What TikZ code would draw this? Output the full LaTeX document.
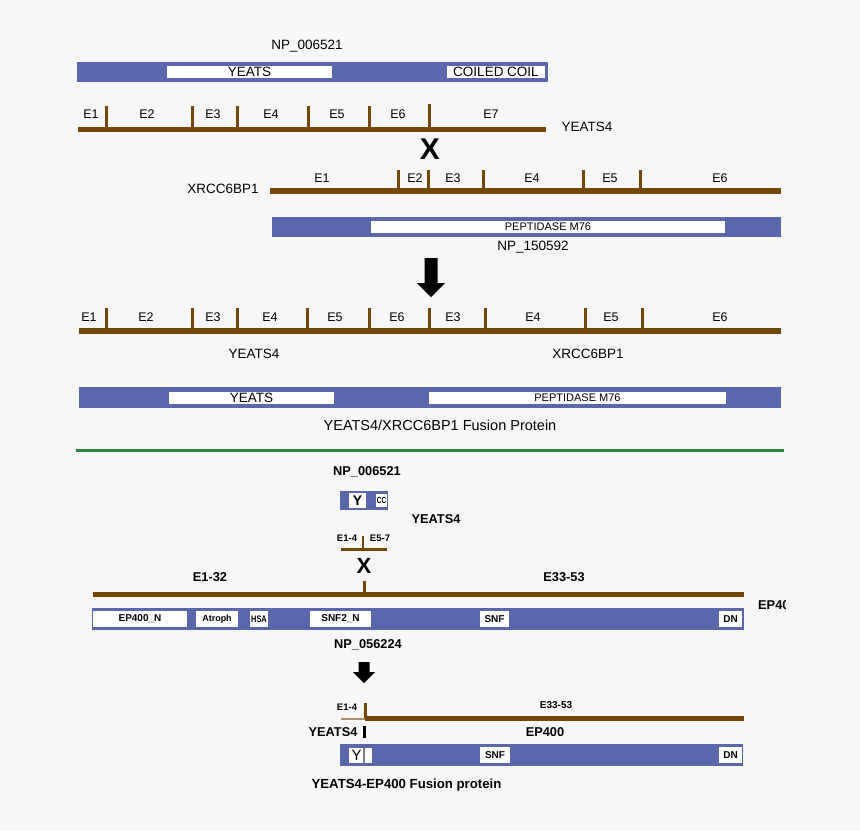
\documentclass[tikz,border=0pt]{standalone}
\usepackage{fontspec}
\setmainfont{Liberation Sans}
\definecolor{barblue}{HTML}{5B67AD}
\definecolor{genebrown}{HTML}{744706}
\definecolor{sepgreen}{HTML}{2E8540}
\definecolor{bgc}{HTML}{F7F7F7}
\tikzset{
  bar/.style={fill=barblue},
  wbox/.style={fill=white},
  gene/.style={draw=genebrown, line width=5pt, line cap=butt},
  tk/.style={draw=genebrown, line width=3pt, line cap=butt},
  txt/.style={inner sep=0pt, font=\fontsize{13.5}{14}\selectfont},
  ex/.style={inner sep=0pt, font=\fontsize{12.5}{13}\selectfont},
  small/.style={inner sep=0pt, font=\fontsize{11}{12}\selectfont},
  btxt/.style={inner sep=0pt, font=\bfseries\fontsize{12.8}{13}\selectfont},
  bsmall/.style={inner sep=0pt, font=\bfseries\fontsize{9.5}{10}\selectfont},
  bdom/.style={inner sep=0pt, font=\bfseries\fontsize{10}{10}\selectfont},
  bigx/.style={inner sep=0pt, font=\bfseries\fontsize{30}{30}\selectfont},
}
\begin{document}
\begin{tikzpicture}[x=1pt,y=-1pt]
\fill[bgc] (0,0) rectangle (860,831);
\useasboundingbox (0,0) rectangle (860,831);

% ---------- top: YEATS4 ----------
\node[txt] (np1) at (307,46) {NP\_006521};
\fill[bar] (77,62) rectangle (548,82);
\fill[wbox] (167,66) rectangle (332,78);
\node[txt] (dy1) at (249.5,72) {YEATS};
\fill[wbox] (447,66) rectangle (545,78);
\node[txt] (dcc) at (496,72) {COILED COIL};

\draw[gene] (78,129.5) -- (546,129.5);
\foreach \t in {106,192,237,308,369} \draw[tk] (\t,106) -- (\t,129);
\draw[tk] (429,104) -- (429,129);
\foreach \l/\p in {E1/91,E2/147,E3/213,E4/271,E5/337,E6/398,E7/491}
  \node[ex] (ya\l) at (\p,114) {\l};
\node[txt] (yeats4a) at (587,127) {YEATS4};
\node[bigx] (xa) at (430,149) {X};

% ---------- XRCC6BP1 ----------
\node[txt] (xrcca) at (223,189) {XRCC6BP1};
\draw[gene, line width=6pt] (270,191) -- (781,191);
\foreach \t in {398,428,483,583,640} \draw[tk] (\t,170) -- (\t,191);
\foreach \l/\p in {E1/322,E2/415,E3/453,E4/532,E5/610,E6/720}
  \node[ex] (xa\l) at (\p,178) {\l};
\fill[bar] (272,217) rectangle (781,237);
\fill[wbox] (371,221) rectangle (725,233);
\node[small] (pepa) at (548,227) {PEPTIDASE M76};
\node[txt] (np2) at (533,247) {NP\_150592};

\fill[black] (424.5,258) -- (437.5,258) -- (437.5,283) -- (445,283) -- (431,297)
  -- (417,283) -- (424.5,283) -- cycle;

% ---------- fusion 1 ----------
\draw[gene, line width=6pt] (79,331) -- (781,331);
\foreach \t in {106,192,237,307,369,429,485,585,642} \draw[tk] (\t,308) -- (\t,331);
\foreach \l/\p/\n in {E1/89/a,E2/146/b,E3/213/c,E4/270/d,E5/335/e,E6/397/f,E3/453/g,E4/533/h,E5/611/i,E6/720/j}
  \node[ex] (f\n) at (\p,317) {\l};
\node[txt] (yeats4b) at (254,354) {YEATS4};
\node[txt] (xrccb) at (588,354) {XRCC6BP1};
\fill[bar] (79,387) rectangle (781,408);
\fill[wbox] (169,392) rectangle (334,404);
\node[txt] (dy2) at (251.5,398) {YEATS};
\fill[wbox] (429,392) rectangle (726,404);
\node[small] (pepb) at (577.5,398) {PEPTIDASE M76};
\node[txt, font=\fontsize{14.5}{15}\selectfont] (fus1) at (440,425) {YEATS4/XRCC6BP1 Fusion Protein};

\draw[sepgreen, line width=3pt] (76,450.5) -- (784,450.5);

% ---------- lower: YEATS4 small ----------
\node[btxt] (np3) at (367,472) {NP\_006521};
\fill[bar] (340,491) rectangle (388,510);
\fill[wbox] (349,493) rectangle (366,508);
\node[inner sep=0pt, font=\bfseries\fontsize{14}{14}\selectfont] (ysm) at (357.5,500.5) {Y};
\fill[wbox] (376,494) rectangle (387,507);
\node[inner sep=0pt, font=\bfseries\fontsize{9}{9}\selectfont, xscale=0.72] (ccsm) at (381.5,500.5) {CC};
\node[btxt] (yeats4c) at (436,519) {YEATS4};
\draw[gene, line width=3pt] (341,549) -- (387,549);
\draw[tk, line width=2pt] (363,536) -- (363,549);
\node[bsmall] (e14a) at (347,538) {E1-4};
\node[bsmall] (e57a) at (380,538) {E5-7};
\node[bigx, font=\bfseries\fontsize{22}{22}\selectfont] (xb) at (364,566) {X};

% ---------- EP400 ----------
\draw[tk] (364,581) -- (364,594);
\draw[gene] (93,594.5) -- (744,594.5);
\node[btxt] (e132) at (210,577) {E1-32};
\node[btxt] (e3353) at (564,577) {E33-53};
\begin{scope}
  \clip (700,590) rectangle (785,622);
  \node[btxt, anchor=west] (ep400a) at (758,605) {EP400};
\end{scope}
\fill[bar] (92,608) rectangle (744,630);
\fill[wbox] (93,611) rectangle (187,627);
\node[bdom] (dep) at (140,619) {EP400\_N};
\fill[wbox] (196,611) rectangle (238,627);
\node[bdom, font=\bfseries\fontsize{9}{9}\selectfont] (datr) at (217,619) {Atroph};
\fill[wbox] (250,611) rectangle (268,627);
\node[bdom, font=\bfseries\fontsize{9.5}{10}\selectfont, xscale=0.78] (dhsa) at (259,619) {HSA};
\fill[wbox] (310,611) rectangle (371,627);
\node[bdom] (dsnf2) at (340.5,619) {SNF2\_N};
\fill[wbox] (480,611) rectangle (509,627);
\node[bdom] (dsnf) at (494.5,619) {SNF};
\fill[wbox] (719,611) rectangle (742,627);
\node[bdom] (ddn) at (730.5,619) {DN};
\node[btxt] (np4) at (368,645) {NP\_056224};

\fill[black] (358.5,662) -- (369.5,662) -- (369.5,672) -- (375,672) -- (364,683)
  -- (353,672) -- (358.5,672) -- cycle;

% ---------- fusion 2 ----------
\draw[genebrown!60, line width=1.5pt] (341,719) -- (365,719);
\draw[gene] (365,718.5) -- (744,718.5);
\draw[tk] (365,703) -- (365,718);
\node[bsmall] (e14b) at (347,707) {E1-4};
\node[bdom] (e3353b) at (556,705) {E33-53};
\node[btxt] (yeats4d) at (333,732) {YEATS4};
\draw[black, line width=3pt] (364,726) -- (364,738);
\node[btxt] (ep400b) at (545,732) {EP400};
\fill[bar] (340,744) rectangle (743,766);
\fill[wbox] (349,748) rectangle (372,763);
\draw[gray, line width=1.5pt] (364,748) -- (364,763);
\node[inner sep=0pt, font=\fontsize{15}{15}\selectfont] (ysm2) at (356.5,755.5) {Y};
\fill[wbox] (480,747) rectangle (510,763);
\node[bdom] (dsnfb) at (495,755) {SNF};
\fill[wbox] (719,747) rectangle (742,763);
\node[bdom] (ddnb) at (730.5,755) {DN};
\node[btxt, font=\bfseries\fontsize{13.2}{14}\selectfont] (fus2) at (406.5,785) {YEATS4-EP400 Fusion protein};
\end{tikzpicture}
\end{document}
